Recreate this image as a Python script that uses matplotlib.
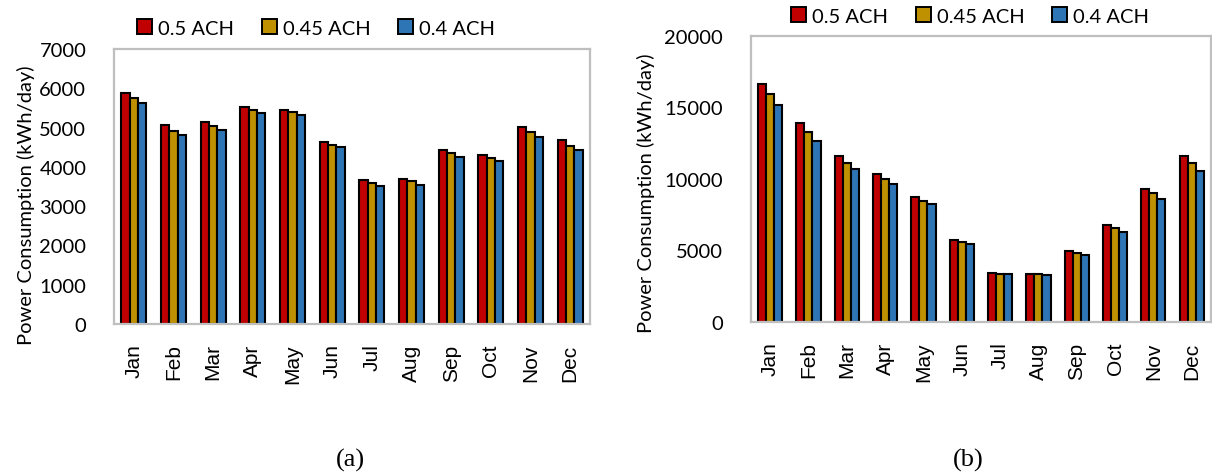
import matplotlib.pyplot as plt
import numpy as np
from matplotlib.patches import Patch

months = ["Jan", "Feb", "Mar", "Apr", "May", "Jun",
          "Jul", "Aug", "Sep", "Oct", "Nov", "Dec"]
series_names = ["0.5 ACH", "0.45 ACH", "0.4 ACH"]
colors = ["#C00000", "#BF9000", "#2E75B6"]

# (a) daily power consumption, kWh/day
a_05 = [5870, 5060, 5130, 5520, 5450, 4620, 3670, 3690, 4420, 4310, 5010, 4690]
a_045 = [5760, 4920, 5030, 5440, 5390, 4560, 3600, 3630, 4350, 4220, 4880, 4540]
a_04 = [5630, 4800, 4930, 5370, 5330, 4510, 3520, 3540, 4260, 4140, 4750, 4420]

# (b) daily power consumption, kWh/day
b_05 = [16660, 13890, 11610, 10350, 8760, 5760, 3390, 3370, 4930, 6800, 9330, 11590]
b_045 = [15920, 13250, 11150, 9980, 8480, 5620, 3360, 3340, 4820, 6570, 8990, 11110]
b_04 = [15180, 12630, 10670, 9630, 8230, 5480, 3340, 3300, 4680, 6310, 8570, 10550]

plt.rcParams['font.family'] = ['Lato', 'DejaVu Sans']

fig = plt.figure(figsize=(12.12, 4.77), dpi=100)
ax_a = fig.add_axes([0.0941, 0.3187, 0.3927, 0.5765])
ax_b = fig.add_axes([0.6196, 0.3229, 0.3795, 0.5996])

width = 0.21
x = np.arange(len(months))


def draw_panel(ax, data, ymax, ystep):
    for i, vals in enumerate(data):
        ax.bar(x + (i - 1) * width, vals, width, color=colors[i],
               edgecolor="black", linewidth=1.5, zorder=2)
    ax.set_xlim(-0.5, len(months) - 0.5)
    ax.set_ylim(0, ymax)
    ax.set_yticks(np.arange(0, ymax + 1, ystep))
    ax.set_xticks(x)
    ax.set_xticklabels(months, rotation=90, family="Liberation Sans",
                       fontsize=15)
    ax.tick_params(axis="both", length=0)
    ax.tick_params(axis="y", pad=20, labelsize=14.5)
    ax.tick_params(axis="x", pad=14)
    for s in ax.spines.values():
        s.set_color("#BFBFBF")
        s.set_linewidth(1.6)
        s.set_zorder(3)
    ax.set_ylabel("Power Consumption (kWh/day)", fontsize=14.5)


draw_panel(ax_a, [a_05, a_045, a_04], 7000, 1000)
draw_panel(ax_b, [b_05, b_045, b_04], 20000, 5000)
ax_a.yaxis.set_label_coords(-0.166, 0.435)
ax_b.yaxis.set_label_coords(-0.209, 0.455)

handles = [Patch(facecolor=c, edgecolor="black", linewidth=1.4) for c in colors]
for cx, cy in [(316 / 1212, 1 - 29 / 477), (970 / 1212, 1 - 17 / 477)]:
    fig.legend(handles, series_names, loc="center", bbox_to_anchor=(cx, cy),
               ncol=3, frameon=False, fontsize=14.5, handlelength=0.75,
               handleheight=0.75, handletextpad=0.3, columnspacing=1.35,
               borderpad=0.1)

fig.text(350 / 1212, 1 - 460 / 477, "(a)", ha="center", va="center",
         fontsize=19, family="Liberation Serif")
fig.text(968 / 1212, 1 - 460 / 477, "(b)", ha="center", va="center",
         fontsize=19, family="Liberation Serif")

fig.savefig("out.png", dpi=100)
